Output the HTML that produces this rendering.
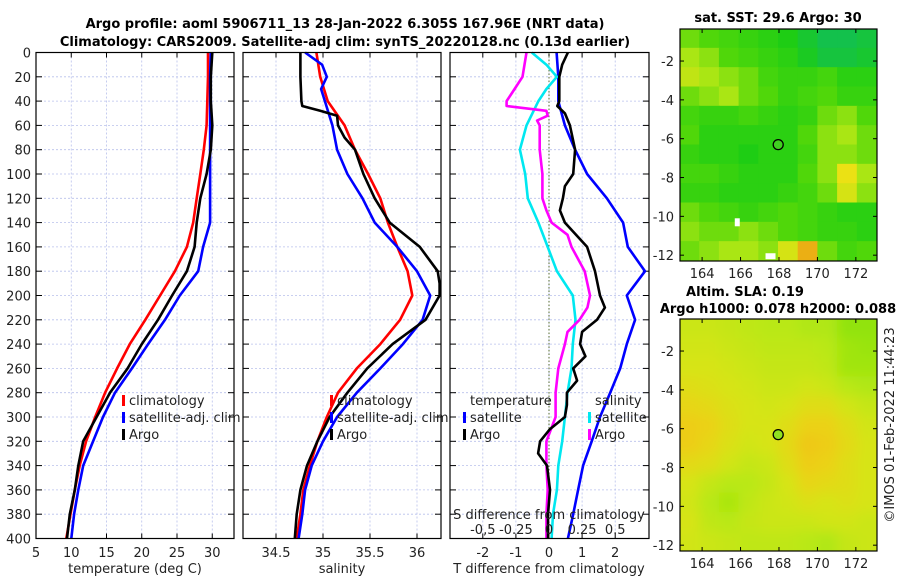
<!DOCTYPE html>
<html><head><meta charset="utf-8"><style>
html,body{margin:0;padding:0;background:#fff;}
svg{display:block;font-family:"DejaVu Sans","Liberation Sans",sans-serif;}
</style></head><body>
<svg id="fig" width="900" height="580" viewBox="0 0 900 580" xmlns="http://www.w3.org/2000/svg">
<text x="345" y="28" text-anchor="middle" font-size="13" font-weight="bold">Argo profile: aoml 5906711_13 28-Jan-2022 6.305S 167.96E (NRT data)</text>
<text x="345" y="46" text-anchor="middle" font-size="13" font-weight="bold">Climatology: CARS2009. Satellite-adj clim: synTS_20220128.nc (0.13d earlier)</text>
<text x="778" y="22" text-anchor="middle" font-size="13" font-weight="bold">sat. SST: 29.6 Argo: 30</text>
<text x="745" y="296" text-anchor="middle" font-size="13" font-weight="bold">Altim. SLA: 0.19</text>
<text x="778" y="313" text-anchor="middle" font-size="13" font-weight="bold">Argo h1000: 0.078 h2000: 0.088</text>
<text transform="translate(894,425) rotate(-90)" text-anchor="middle" font-size="13" fill="#222">©IMOS 01-Feb-2022 11:44:23</text>
<g id="plots"></g>
</svg>
<script>
// depths (dbar) shared by profile series
const depths = [0,20,40,60,80,100,120,140,160,180,200,220,240,260,280,300,320,340,360,380,400];
// temperature panel
const tClim = [29.4,29.4,29.3,29.2,28.8,28.3,27.8,27.3,26.4,24.7,22.6,20.5,18.3,16.5,14.8,13.4,12.1,11.2,10.5,9.9,9.3];
const tSat  = [29.8,29.7,29.7,29.7,29.7,29.7,29.7,29.7,28.7,28.0,25.4,23.3,20.9,18.6,16.2,14.5,13.1,11.7,11.0,10.4,10.0];
const tArgo = [30.0,29.8,29.8,30.0,29.8,29.2,28.3,27.8,27.5,26.4,24.3,22.3,20.0,18.0,15.5,13.6,11.7,11.0,10.5,9.8,9.4];
// salinity panel
const sClim = [34.93,34.97,35.05,35.23,35.34,35.48,35.61,35.69,35.79,35.90,35.95,35.82,35.61,35.36,35.16,35.04,34.94,34.86,34.79,34.76,34.72];
const sSatDepths = [0,10,20,30,40,60,80,100,120,140,160,180,200,220,240,260,280,300,320,340,360,380,400];
const sSat  = [34.81,34.99,35.04,34.98,35.02,35.10,35.15,35.26,35.42,35.55,35.79,36.00,36.14,36.06,35.85,35.61,35.36,35.15,35.00,34.88,34.81,34.78,34.74];
const sArgoDepths = [0,20,40,44,48,52,60,70,80,100,120,140,160,180,190,200,220,240,260,280,300,320,340,360,380,400];
const sArgo = [34.76,34.76,34.77,34.78,34.97,35.15,35.16,35.23,35.34,35.43,35.55,35.71,36.03,36.22,36.24,36.24,36.09,35.74,35.47,35.26,35.07,34.94,34.83,34.76,34.72,34.70];
// difference panel
const dTSatDepths = [0,20,40,60,80,100,120,140,160,180,200,220,240,260,280,300,320,340,360,380,400];
const dTSat = [0.23,0.28,0.28,0.48,0.79,1.15,1.75,2.24,2.38,2.9,2.35,2.6,2.35,2.15,1.85,1.54,1.29,1.03,0.88,0.73,0.57];
const dTArgoDepths = [0,10,20,40,44,50,60,80,100,110,120,130,140,160,180,200,210,220,230,240,250,260,270,280,290,300,310,320,330,340,360,380,400];
const dTArgo = [0.57,0.4,0.31,0.31,0.25,0.48,0.63,0.79,0.73,0.48,0.42,0.33,0.48,1.15,1.39,1.54,1.69,1.45,1.0,0.94,1.1,0.73,0.85,0.54,0.54,0.48,0.03,-0.27,-0.33,-0.06,0.03,-0.03,-0.03];
const dSSatDepths = [0,10,20,30,40,60,80,100,120,140,160,180,200,220,240,260,280,300,320,340,360,380,400];
const dSSat = [-0.13,-0.02,0.06,-0.02,-0.08,-0.17,-0.22,-0.18,-0.16,-0.08,-0.01,0.06,0.18,0.2,0.18,0.17,0.14,0.12,0.1,0.07,0.06,0.03,0.02];
const dSArgoDepths = [0,20,30,40,44,48,52,56,60,80,100,120,130,140,150,160,180,200,210,220,230,240,260,280,300,320,340,360,380,400];
const dSArgo = [-0.17,-0.2,-0.26,-0.32,-0.32,-0.02,-0.01,-0.09,-0.07,-0.07,-0.05,-0.05,-0.02,0.02,0.14,0.17,0.27,0.31,0.29,0.23,0.14,0.12,0.07,0.05,0.05,-0.02,-0.02,-0.01,-0.02,-0.02];
// tick labels
const depthTicks = [0,20,40,60,80,100,120,140,160,180,200,220,240,260,280,300,320,340,360,380,400];
const tTicks = [5,10,15,20,25,30];
const sTicks = [34.5,35,35.5,36];
const dTTicks = [-2,-1,0,1,2];
const dSTicks = [-0.5,-0.25,0,0.25,0.5];
const dSTickLabels = ["-0,5","-0.25","0","0.25","0.5"];
const lonTicks = [164,166,168,170,172];
const latTicks = [-2,-4,-6,-8,-10,-12];
// map grids (relative colour index, rows north->south, cols west->east)
const sstGrid = [
[0.5,0.45,0.4,0.35,0.3,0.25,0.15,0.05,0.05,0.1],
[0.6,0.55,0.45,0.4,0.35,0.3,0.2,0.1,0.1,0.15],
[0.65,0.6,0.55,0.5,0.4,0.35,0.35,0.4,0.3,0.3],
[0.5,0.55,0.6,0.5,0.45,0.35,0.4,0.45,0.35,0.35],
[0.4,0.35,0.35,0.4,0.35,0.3,0.35,0.5,0.55,0.45],
[0.45,0.3,0.3,0.3,0.3,0.3,0.45,0.55,0.6,0.5],
[0.35,0.3,0.3,0.25,0.3,0.3,0.4,0.55,0.55,0.5],
[0.4,0.4,0.35,0.3,0.3,0.3,0.45,0.55,0.75,0.6],
[0.35,0.35,0.3,0.3,0.3,0.35,0.4,0.5,0.7,0.55],
[0.5,0.45,0.4,0.35,0.4,0.45,0.4,0.35,0.3,0.3],
[0.55,0.5,0.5,0.55,0.5,0.45,0.4,0.35,0.35,0.3],
[0.5,0.55,0.6,0.6,0.55,0.7,0.85,0.5,0.4,0.45]];
const slaGrid = [
[0.5,0.5,0.45,0.4,0.35,0.35,0.3,0.3,0.1,0.1],
[0.55,0.55,0.5,0.45,0.4,0.4,0.4,0.35,0.2,0.15],
[0.6,0.6,0.55,0.5,0.45,0.45,0.45,0.4,0.2,0.2],
[0.7,0.65,0.6,0.55,0.5,0.5,0.55,0.5,0.35,0.3],
[0.8,0.75,0.65,0.6,0.55,0.6,0.7,0.7,0.55,0.45],
[0.9,0.85,0.7,0.6,0.6,0.7,0.85,0.85,0.7,0.55],
[0.9,0.8,0.65,0.55,0.6,0.75,0.95,0.9,0.75,0.6],
[0.75,0.7,0.55,0.45,0.5,0.7,0.9,0.85,0.7,0.6],
[0.6,0.45,0.35,0.35,0.45,0.6,0.8,0.75,0.7,0.6],
[0.55,0.35,0.25,0.4,0.5,0.55,0.65,0.6,0.65,0.6],
[0.6,0.4,0.35,0.45,0.5,0.5,0.5,0.55,0.55,0.5],
[0.55,0.5,0.45,0.4,0.4,0.4,0.35,0.3,0.45,0.5]];
const argoLon = [167.96];
const argoLat = [-6.305];

const NS = "http://www.w3.org/2000/svg";
const root = document.getElementById('plots');
function mk(tag, attrs, parent){ const e=document.createElementNS(NS,tag); for(const k in attrs) e.setAttribute(k,attrs[k]); (parent||root).appendChild(e); return e; }

const TOP=52.5, BOT=538.5;
const yD = d => TOP + d*(BOT-TOP)/400;
const xT = v => 36 + (v-5)*7.05;
const xS = v => 276 + (v-34.5)*94;
const xDT = v => 549 + v*33.1;
const xDS = v => 549 + v*132.4;

function panel(name, left, right, xticks, xfun){
  const g = mk('g',{});
  
  
  xticks.forEach(t=>{ const x=xfun(t); mk('line',{x1:x,x2:x,y1:TOP,y2:BOT,stroke:'#b8c0ec','stroke-width':0.8,'stroke-dasharray':'2,2'},g); });
  depthTicks.forEach(d=>{ const y=yD(d); mk('line',{x1:left,x2:right,y1:y,y2:y,stroke:'#b8c0ec','stroke-width':0.8,'stroke-dasharray':'2,2'},g);
    mk('line',{x1:left,x2:left+6,y1:y,y2:y,stroke:'#000'},g); mk('line',{x1:right-6,x2:right,y1:y,y2:y,stroke:'#000'},g); });
  xticks.forEach(t=>{ const x=xfun(t); mk('line',{x1:x,x2:x,y1:BOT,y2:BOT-5,stroke:'#000'},g); mk('line',{x1:x,x2:x,y1:TOP,y2:TOP+5,stroke:'#000'},g); });
  return g;
}
function box(g,left,right){ mk('rect',{x:left,y:TOP,width:right-left,height:BOT-TOP,fill:'none',stroke:'#000','stroke-width':1.2},g); }
function series(g, vals, ds, xf, color, name){
  const p = mk('polyline',{points: vals.map((v,i)=>xf(v).toFixed(1)+','+yD(ds[i]).toFixed(1)).join(' '), fill:'none', stroke:color,'stroke-width':2.6,'stroke-linejoin':'round'},g);
  
  
}
function txt(g,x,y,s,anchor,size,name){ const t=mk('text',{x:x,y:y,'text-anchor':anchor||'start','font-size':size||13,fill:'#222'},g); t.textContent=s;
  
   return t; }
function legend(g,x,y,label,color,name){ mk('rect',{x:x,y:y-10,width:3,height:11,fill:color},g); txt(g,x+7,y,label,'start',13,name); }

// Panel 1
const g1 = panel('temperature-panel',36,234,tTicks,xT);
series(g1,tClim,depths,xT,'#ff0000','temp-climatology-line');
series(g1,tSat,depths,xT,'#0000ff','temp-satellite-line');
series(g1,tArgo,depths,xT,'#000000','temp-argo-line');
box(g1,36,234);
depthTicks.forEach(d=>txt(g1,31,yD(d)+5,String(d),'end',13,'y-tick-label'));
tTicks.forEach(t=>txt(g1,xT(t),557,String(t),'middle',13,'x-tick-label'));
txt(g1,135,573,'temperature (deg C)','middle',13,'x-axis-title-temperature');
legend(g1,122,405,'climatology','#ff0000','legend-climatology');
legend(g1,122,422,'satellite-adj. clim','#0000ff','legend-satellite');
legend(g1,122,439,'Argo','#000000','legend-argo');

// Panel 2
const g2 = panel('salinity-panel',243,441,sTicks,xS);
series(g2,sClim,depths,xS,'#ff0000','sal-climatology-line');
series(g2,sSat,sSatDepths,xS,'#0000ff','sal-satellite-line');
series(g2,sArgo,sArgoDepths,xS,'#000000','sal-argo-line');
box(g2,243,441);
sTicks.forEach(t=>txt(g2,xS(t),557,String(t),'middle',13,'x-tick-label'));
txt(g2,342,573,'salinity','middle',13,'x-axis-title-salinity');
legend(g2,330,405,'climatology','#ff0000','legend-climatology');
legend(g2,330,422,'satellite-adj. clim','#0000ff','legend-satellite');
legend(g2,330,439,'Argo','#000000','legend-argo');

// Panel 3
const g3 = panel('difference-panel',450,649,dTTicks,xDT);
mk('line',{x1:xDT(0),x2:xDT(0),y1:TOP,y2:BOT,stroke:'#556b2f','stroke-width':1,'stroke-dasharray':'1.5,2'},g3);
series(g3,dTSat,dTSatDepths,xDT,'#0000ff','tdiff-satellite-line');
series(g3,dSSat,dSSatDepths,xDS,'#00e8f0','sdiff-satellite-line');
series(g3,dSArgo,dSArgoDepths,xDS,'#ff00ff','sdiff-argo-line');
series(g3,dTArgo,dTArgoDepths,xDT,'#000000','tdiff-argo-line');
box(g3,450,649);
dTTicks.forEach(t=>txt(g3,xDT(t),557,String(t),'middle',13,'x-tick-label'));
txt(g3,549,573,'T difference from climatology','middle',13,'x-axis-title-tdiff');
txt(g3,549,519,'S difference from climatology','middle',13,'s-axis-title');
dSTicks.forEach((t,i)=>txt(g3,xDS(t),534,dSTickLabels[i],'middle',13,'s-tick-label'));
txt(g3,470,405,'temperature','start',13,'legend-title-temperature');
txt(g3,595,405,'salinity','start',13,'legend-title-salinity');
legend(g3,463,422,'satellite','#0000ff','legend-t-satellite');
legend(g3,463,439,'Argo','#000000','legend-t-argo');
legend(g3,588,422,'satellite','#00e8f0','legend-s-satellite');
legend(g3,588,439,'Argo','#ff00ff','legend-s-argo');

// Maps
function lerpColor(stops,v){
  v=Math.max(0,Math.min(1,v));
  for(let i=0;i<stops.length-1;i++){ const a=stops[i],b=stops[i+1]; if(v<=b[0]){ const f=(v-a[0])/(b[0]-a[0]);
    return 'rgb('+[1,2,3].map(k=>Math.round(a[k]+(b[k]-a[k])*f)).join(',')+')'; } }
  const l=stops[stops.length-1]; return 'rgb('+l[1]+','+l[2]+','+l[3]+')';
}
const sstStops=[[0,16,190,90],[0.25,30,205,20],[0.45,80,215,10],[0.6,170,230,20],[0.75,235,225,20],[0.9,235,150,20],[1,200,80,20]];
const slaStops=[[0,130,225,10],[0.35,185,232,20],[0.6,215,228,20],[0.85,235,210,20],[1,240,195,25]];
function map(name, top, bottom, grid, stops, blur){
  const L=680,R=877, lonMin=162.85, lonMax=173.1, latTop=-0.35, latBot=-12.3;
  const xL = lon => L + (lon-lonMin)*(R-L)/(lonMax-lonMin);
  const yL = lat => top + (latTop-lat)*(bottom-top)/(latTop-latBot);
  const g = mk('g',{});
  
  
  const id='clip'+name; const cp=mk('clipPath',{id:id},g); mk('rect',{x:L,y:top,width:R-L,height:bottom-top},cp);
  const cg = mk('g',{'clip-path':'url(#'+id+')'},g);
  const ig = mk('g', blur?{filter:'url(#blur)'}:{}, cg);
  const rows=grid.length, cols=grid[0].length, cw=(R-L)/cols, ch=(bottom-top)/rows;
  const ext = blur?25:0;
  grid.forEach((row,r)=>row.forEach((v,c)=>{
    let x=L+c*cw-0.5, y=top+r*ch-0.5, w=cw+1, h=ch+1;
    if(c===0){x-=ext;w+=ext;} if(c===cols-1){w+=ext;}
    if(r===0){y-=ext;h+=ext;} if(r===rows-1){h+=ext;}
    const cell = mk('rect',{x:x,y:y,width:w,height:h,fill:lerpColor(stops,v)},ig);
    
    
  }));
  if(!blur){
    mk('rect',{x:xL(165.7),y:yL(-10.1),width:5,height:8,fill:'#fff'},cg);
    mk('rect',{x:xL(167.3),y:yL(-11.9),width:10,height:6,fill:'#fff'},cg);
  }
  mk('rect',{x:L,y:top,width:R-L,height:bottom-top,fill:'none',stroke:'#000','stroke-width':1.2},g);
  lonTicks.forEach(t=>{ const x=xL(t); mk('line',{x1:x,x2:x,y1:bottom,y2:bottom-4,stroke:'#000'},g); mk('line',{x1:x,x2:x,y1:top,y2:top+4,stroke:'#000'},g);
    txt(g,x,bottom+17,String(t),'middle',13,'lon-tick-label'); });
  latTicks.forEach(t=>{ const y=yL(t); mk('line',{x1:L,x2:L+4,y1:y,y2:y,stroke:'#000'},g); mk('line',{x1:R-4,x2:R,y1:y,y2:y,stroke:'#000'},g);
    txt(g,L-6,y+5,String(t),'end',13,'lat-tick-label'); });
  const c = mk('circle',{cx:xL(argoLon[0]),cy:yL(argoLat[0]),r:5,fill:blur?'#90e020':'#40d020',stroke:'#000','stroke-width':1.3},g);
  
  
}
const defs = mk('defs',{});
const f = mk('filter',{id:'blur',x:'-10%',y:'-10%',width:'120%',height:'120%'},defs);
mk('feGaussianBlur',{stdDeviation:6},f);
map('sst-map',29,261,sstGrid,sstStops,false);
map('sla-map',319,551,slaGrid,slaStops,true);
</script>
</body></html>
